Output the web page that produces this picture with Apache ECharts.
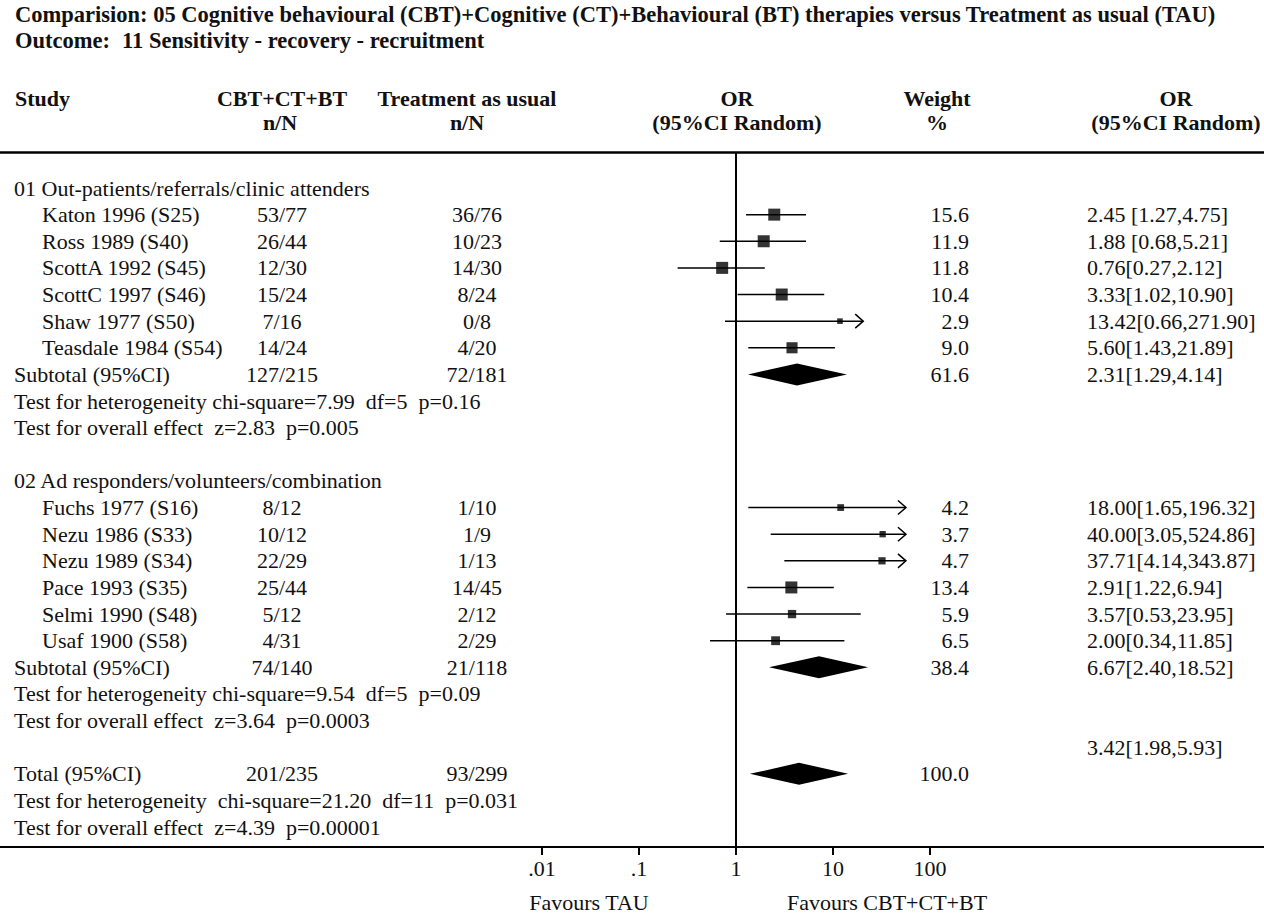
<!DOCTYPE html>
<html>
<head>
<meta charset="utf-8">
<title>Forest plot</title>
<script src="https://cdn.jsdelivr.net/npm/echarts@6.0.0/dist/echarts.min.js"></script>
<style>
  html, body { margin: 0; padding: 0; background: #fff; }
  #forest { width: 1264px; height: 915px; }
</style>
</head>
<body>
<div id="forest"></div>
<script>
// ---- data ----
const groupNames = ['01 Out-patients/referrals/clinic attenders', '02 Ad responders/volunteers/combination']
const studies = ['Katon 1996 (S25)', 'Ross 1989 (S40)', 'ScottA 1992 (S45)', 'ScottC 1997 (S46)', 'Shaw 1977 (S50)', 'Teasdale 1984 (S54)',
  'Fuchs 1977 (S16)', 'Nezu 1986 (S33)', 'Nezu 1989 (S34)', 'Pace 1993 (S35)', 'Selmi 1990 (S48)', 'Usaf 1900 (S58)']
const studyGroup = [0, 0, 0, 0, 0, 0, 1, 1, 1, 1, 1, 1]
const cbtNN = ['53/77', '26/44', '12/30', '15/24', '7/16', '14/24', '8/12', '10/12', '22/29', '25/44', '5/12', '4/31']
const tauNN = ['36/76', '10/23', '14/30', '8/24', '0/8', '4/20', '1/10', '1/9', '1/13', '14/45', '2/12', '2/29']
const weights = [15.6, 11.9, 11.8, 10.4, 2.9, 9.0, 4.2, 3.7, 4.7, 13.4, 5.9, 6.5]
const orText = ['2.45 [1.27,4.75]', '1.88 [0.68,5.21]', '0.76[0.27,2.12]', '3.33[1.02,10.90]', '13.42[0.66,271.90]', '5.60[1.43,21.89]',
  '18.00[1.65,196.32]', '40.00[3.05,524.86]', '37.71[4.14,343.87]', '2.91[1.22,6.94]', '3.57[0.53,23.95]', '2.00[0.34,11.85]']
// where the marks sit on the drawn OR scale (upper end = where the line / arrow stops)
const orPoint = [2.48, 1.93, 0.72, 2.96, 11.8, 3.78, 12.0, 32.5, 32.0, 3.72, 3.78, 2.56]
const orLow = [1.27, 0.68, 0.25, 1.04, 0.77, 1.34, 1.34, 2.28, 3.15, 1.31, 0.79, 0.54]
const orHigh = [5.27, 5.27, 1.98, 8.12, 20.5, 10.5, 56.5, 56.5, 56.5, 10.2, 19.3, 13.1]
const hasArrow = [false, false, false, false, true, false, true, true, true, false, false, false]

const subLabels = ['Subtotal (95%CI)', 'Subtotal (95%CI)', 'Total (95%CI)']
const subCbt = ['127/215', '74/140', '201/235']
const subTau = ['72/181', '21/118', '93/299']
const subWeight = ['61.6', '38.4', '100.0']
const subOrText = ['2.31[1.29,4.14]', '6.67[2.40,18.52]', '3.42[1.98,5.93]']
const diamondLow = [1.33, 2.19, 1.39]
const diamondMid = [4.25, 7.18, 4.46]
const diamondHigh = [13.9, 23.0, 14.3]
const hetText = ['Test for heterogeneity chi-square=7.99\u00a0\u00a0df=5\u00a0\u00a0p=0.16',
  'Test for heterogeneity chi-square=9.54\u00a0\u00a0df=5\u00a0\u00a0p=0.09',
  'Test for heterogeneity\u00a0\u00a0chi-square=21.20\u00a0\u00a0df=11\u00a0\u00a0p=0.031']
const effectText = ['Test for overall effect\u00a0\u00a0z=2.83\u00a0\u00a0p=0.005',
  'Test for overall effect\u00a0\u00a0z=3.64\u00a0\u00a0p=0.0003',
  'Test for overall effect\u00a0\u00a0z=4.39\u00a0\u00a0p=0.00001']

const tickValues = [0.01, 0.1, 1, 10, 100]
const tickLabels = ['.01', '.1', '1', '10', '100']

// ---- layout ----
const W = 1264
const FONT = '"Liberation Serif", "Times New Roman", serif'
const ROW0_Y = 188      // pixel y of the first table row
const ROW_H = 26.63     // row pitch
const RULE_TOP = 152
const RULE_BOTTOM = 847
const X_ONE = 736       // pixel x of OR = 1
const DECADE = 97       // pixels per decade
const COL_X = { label: 14, study: 42, cbt: 282, tau: 477, weight: 969, or: 1087 }
const COL_ALIGN = { label: 'left', study: 'left', cbt: 'center', tau: 'center', weight: 'right', or: 'left' }

// build the table rows
const cells = []
const ciData = []
const squareData = []
const diamondData = []
let row = 0
function cell (r, col, text) { cells.push({ row: r, col: col, text: text }) }

for (let g = 0; g < 2; g++) {
  cell(row++, 'label', groupNames[g])
  studies.forEach(function (name, i) {
    if (studyGroup[i] !== g) return
    cell(row, 'study', name)
    cell(row, 'cbt', cbtNN[i])
    cell(row, 'tau', tauNN[i])
    cell(row, 'weight', weights[i].toFixed(1))
    cell(row, 'or', orText[i])
    ciData.push([orLow[i], orHigh[i], row, hasArrow[i] ? 1 : 0])
    squareData.push([orPoint[i], row, weights[i]])
    row++
  })
  cell(row, 'label', subLabels[g])
  cell(row, 'cbt', subCbt[g])
  cell(row, 'tau', subTau[g])
  cell(row, 'weight', subWeight[g])
  cell(row, 'or', subOrText[g])
  diamondData.push([diamondLow[g], diamondMid[g], diamondHigh[g], row])
  row++
  cell(row++, 'label', hetText[g])
  cell(row++, 'label', effectText[g])
  row++
}
// overall total: its OR text sits one line above
row--
cell(row, 'or', subOrText[2])
row++
cell(row, 'label', subLabels[2])
cell(row, 'cbt', subCbt[2])
cell(row, 'tau', subTau[2])
cell(row, 'weight', subWeight[2])
diamondData.push([diamondLow[2], diamondMid[2], diamondHigh[2], row])
row++
cell(row++, 'label', hetText[2])
cell(row++, 'label', effectText[2])

const yMin = -(ROW0_Y - RULE_TOP) / ROW_H
const yMax = (RULE_BOTTOM - ROW0_Y) / ROW_H
const xMinPx = X_ONE - 2 * DECADE
const xMaxPx = X_ONE + 2 * DECADE

function txt (x, y, text, align, bold, size) {
  return {
    type: 'text', x: x, y: y,
    style: { text: text, fill: '#111', align: align, verticalAlign: 'middle', font: (bold ? 'bold ' : '') + (size || 22) + 'px ' + FONT }
  }
}

const option = {
  animation: false,
  backgroundColor: '#fff',
  grid: [
    { left: xMinPx, right: W - xMaxPx, top: RULE_TOP, bottom: 915 - RULE_BOTTOM },
    { left: 0, right: 0, top: RULE_TOP, bottom: 915 - RULE_BOTTOM }
  ],
  xAxis: [
    {
      type: 'log', gridIndex: 0, min: 0.01, max: 100, interval: 1, position: 'bottom',
      axisLine: { show: false, onZero: false },
      axisTick: { show: false },
      axisLabel: {
        color: '#111', fontFamily: FONT, fontSize: 22, margin: 10,
        formatter: function (v) {
          const k = tickValues.findIndex(function (t) { return Math.abs(t - v) / t < 1e-6 })
          return k >= 0 ? tickLabels[k] : ''
        }
      },
      splitLine: { show: false }
    },
    { type: 'value', gridIndex: 1, min: 0, max: 1, position: 'bottom', axisLine: { onZero: false, lineStyle: { color: '#000', width: 2 } }, axisTick: { show: false }, axisLabel: { show: false }, splitLine: { show: false } },
    { type: 'value', gridIndex: 1, min: 0, max: 1, position: 'top', axisLine: { onZero: false, lineStyle: { color: '#000', width: 2.5 } }, axisTick: { show: false }, axisLabel: { show: false }, splitLine: { show: false } }
  ],
  yAxis: [
    { type: 'value', gridIndex: 0, inverse: true, min: yMin, max: yMax, show: false },
    { type: 'value', gridIndex: 1, min: 0, max: 1, show: false }
  ],
  graphic: [
    txt(15, 14, 'Comparision: 05 Cognitive behavioural (CBT)+Cognitive (CT)+Behavioural (BT) therapies versus Treatment as usual (TAU)', 'left', true, 22.5),
    txt(15, 40, 'Outcome:', 'left', true, 22.5),
    txt(122, 40, '11 Sensitivity - recovery - recruitment', 'left', true, 22.5),
    txt(15, 98, 'Study', 'left', true),
    txt(282, 98, 'CBT+CT+BT', 'center', true),
    txt(280, 122, 'n/N', 'center', true),
    txt(467, 98, 'Treatment as usual', 'center', true),
    txt(467, 122, 'n/N', 'center', true),
    txt(737, 98, 'OR', 'center', true),
    txt(737, 122, '(95%CI Random)', 'center', true),
    txt(937, 98, 'Weight', 'center', true),
    txt(937, 122, '%', 'center', true),
    txt(1176, 98, 'OR', 'center', true),
    txt(1176, 122, '(95%CI Random)', 'center', true),
    txt(589, 902, 'Favours TAU', 'center', false),
    txt(887, 902, 'Favours CBT+CT+BT', 'center', false)
  ],
  series: [
    {
      name: 'ci',
      type: 'custom',
      xAxisIndex: 0, yAxisIndex: 0,
      clip: false,
      data: ciData,
      renderItem: function (params, api) {
        const a = api.coord([api.value(0), api.value(2)])
        const b = api.coord([api.value(1), api.value(2)])
        const children = [{
          type: 'line',
          shape: { x1: a[0], y1: a[1], x2: b[0], y2: b[1] },
          style: { stroke: '#000', lineWidth: 1.5 }
        }]
        if (api.value(3)) {
          children.push({
            type: 'polyline',
            shape: { points: [[b[0] - 8, b[1] - 7], [b[0], b[1]], [b[0] - 8, b[1] + 7]] },
            style: { stroke: '#000', lineWidth: 1.5, fill: null }
          })
        }
        return { type: 'group', children: children }
      },
      markLine: {
        silent: true,
        symbol: 'none',
        label: { show: false },
        lineStyle: { color: '#000', width: 2, type: 'solid' },
        data: [{ xAxis: 1 }]
      },
      z: 2
    },
    {
      name: 'studies',
      type: 'scatter',
      xAxisIndex: 0, yAxisIndex: 0,
      data: squareData,
      symbol: 'rect',
      symbolSize: function (v) { return Math.min(12, 0.9 * v[2] + 3) },
      itemStyle: { color: '#000' },
      z: 3
    },
    {
      name: 'pooled',
      type: 'custom',
      xAxisIndex: 0, yAxisIndex: 0,
      clip: false,
      data: diamondData,
      renderItem: function (params, api) {
        const r = api.value(3)
        const lo = api.coord([api.value(0), r])
        const mid = api.coord([api.value(1), r])
        const hi = api.coord([api.value(2), r])
        const h = 11
        return {
          type: 'polygon',
          shape: { points: [[lo[0], lo[1]], [mid[0], mid[1] - h], [hi[0], hi[1]], [mid[0], mid[1] + h]] },
          style: { fill: '#000' }
        }
      },
      z: 3
    },
    {
      name: 'table',
      type: 'custom',
      xAxisIndex: 0, yAxisIndex: 0,
      clip: false,
      data: cells.map(function (c) { return [1, c.row] }),
      renderItem: function (params, api) {
        const c = cells[params.dataIndex]
        const y = api.coord([1, api.value(1)])[1]
        return {
          type: 'text',
          x: COL_X[c.col],
          y: y,
          style: { text: c.text, fill: '#111', align: COL_ALIGN[c.col], verticalAlign: 'middle', font: '22px ' + FONT }
        }
      },
      z: 4
    }
  ]
}

const chart = echarts.init(document.getElementById('forest'), null, { renderer: 'svg' })
chart.setOption(option)

// tick marks of the OR scale, hanging below the bottom rule, placed through the axis' own scale
const tickMarks = tickValues.map(function (v) {
  let x = chart.convertToPixel({ xAxisIndex: 0 }, v)
  if (Array.isArray(x)) x = x[0]
  if (!isFinite(x)) x = X_ONE + DECADE * Math.log10(v)
  return {
    type: 'rect',
    shape: { x: x - 1, y: RULE_BOTTOM, width: 2, height: 8 },
    style: { fill: '#000' },
    z: 10
  }
})
chart.setOption({ graphic: option.graphic.concat(tickMarks) })
</script>
</body>
</html>
